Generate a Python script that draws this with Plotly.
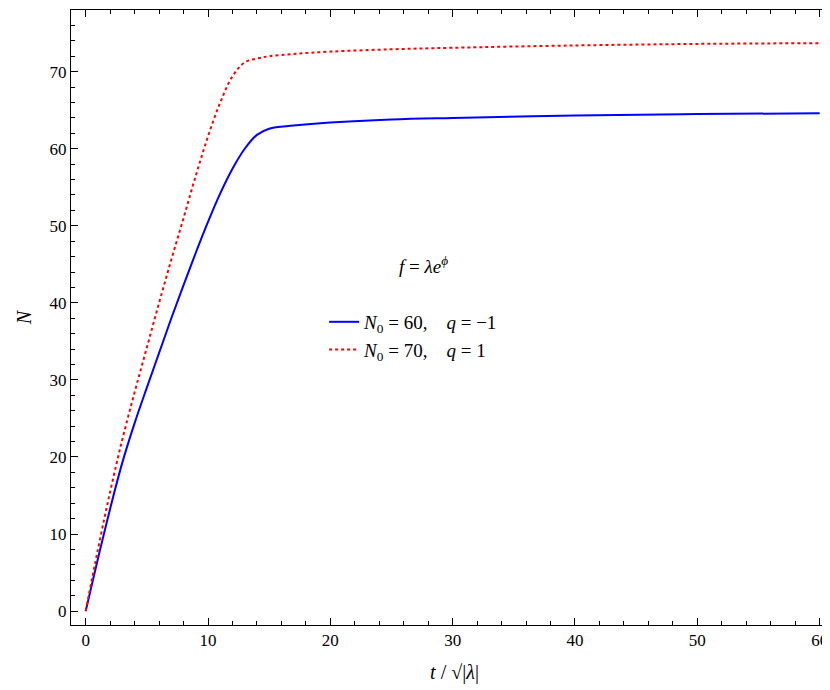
import plotly.graph_objects as go

t_blue = [0, 1, 2, 3, 4, 5, 6, 7, 8, 9, 10, 11, 12, 13, 14, 15, 17, 20, 25, 30, 40, 50, 60]
n_blue = [0, 6.8, 13.3, 19.3, 24.4, 29.0, 33.5, 38.0, 42.3, 46.5, 50.5, 54.2, 57.4, 60.0, 61.8, 62.6, 63.0, 63.4, 63.8, 64.0, 64.3, 64.5, 64.6]
t_red = [0, 1, 2, 3, 4, 5, 6, 7, 8, 9, 10, 11, 12, 13, 14, 15, 17, 20, 25, 30, 40, 50, 60]
n_red = [0, 8.0, 15.5, 22.3, 28.4, 34.2, 40.0, 45.6, 51.0, 56.5, 61.6, 66.0, 69.4, 71.2, 71.7, 72.0, 72.3, 72.6, 72.9, 73.1, 73.4, 73.6, 73.7]

fig = go.Figure()
fig.add_trace(go.Scatter(x=t_blue, y=n_blue, mode="lines", line=dict(color="#0000ff", width=2, shape="spline"),
                         name="<i>N</i><sub>0</sub> = 60,    <i>q</i> = −1"))
fig.add_trace(go.Scatter(x=t_red, y=n_red, mode="lines", line=dict(color="#ff0000", width=2, shape="spline", dash="dot"),
                         name="<i>N</i><sub>0</sub> = 70,    <i>q</i> = 1"))

ax = dict(showline=True, linecolor="black", mirror="ticks", ticks="inside", ticklen=7, tickcolor="black",
          showgrid=False, zeroline=False, minor=dict(ticks="inside", ticklen=4, tickcolor="black"))
fig.update_layout(
    width=830, height=690, plot_bgcolor="white", paper_bgcolor="white",
    font=dict(family="Liberation Serif, DejaVu Serif, serif", size=17, color="black"),
    margin=dict(l=63, r=0, t=2, b=73),
    xaxis=dict(ax, range=[-1.2, 61.5], dtick=10, minor=dict(ax["minor"], dtick=2),
               title=dict(text="<i>t</i> / √|<i>λ</i>|", standoff=15)),
    yaxis=dict(ax, range=[-1.8, 78], dtick=10, minor=dict(ax["minor"], dtick=2),
               title=dict(text="<i>N</i>", standoff=12)),
    legend=dict(x=0.33, y=0.47, xanchor="left", yanchor="middle", bgcolor="rgba(0,0,0,0)",
                font=dict(size=19), tracegroupgap=12),
    showlegend=True,
)
fig.add_annotation(x=0.46, y=0.585, xref="paper", yref="paper", showarrow=False,
                   text="<i>f</i> = <i>λe</i><sup><i>ϕ</i></sup>", font=dict(size=19))
fig.write_html("out.html")
